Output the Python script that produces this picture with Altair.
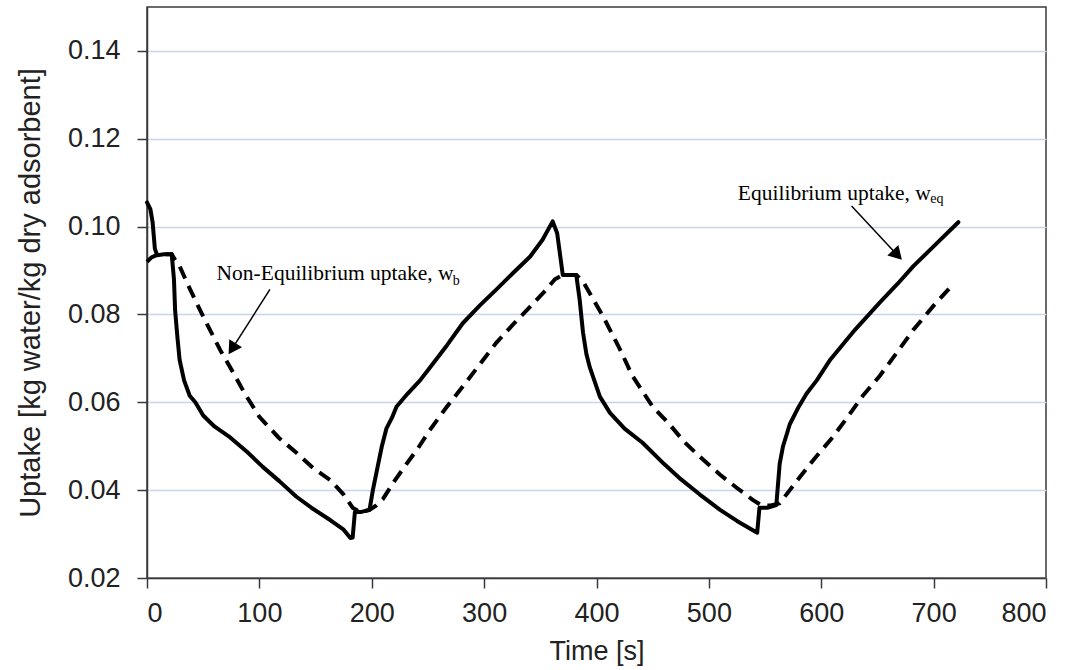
import altair as alt
import pandas as pd

# Equilibrium uptake (solid)
eq_t = [0, 3, 5, 7, 9, 15, 22, 24, 25, 27, 29, 33, 38, 43, 50, 60, 74, 90, 103, 118, 133, 148, 163, 175, 181, 183,
        185, 190, 198, 201, 205, 209, 213, 218, 222, 232, 243, 252, 267, 281, 296, 311, 326, 341, 352, 361, 365, 370,
        382, 385, 388, 391, 394, 403, 412, 425, 441, 460, 475, 492, 510, 525, 543, 545, 552, 560, 563, 566, 572, 580,
        587, 596, 608, 630, 652, 668, 682, 700, 722]
eq_v = [0.1055, 0.104, 0.101, 0.095, 0.0935, 0.0937, 0.0937, 0.088, 0.081, 0.075, 0.0697, 0.065, 0.0615, 0.060, 0.057,
        0.0545, 0.052, 0.0485, 0.0453, 0.042, 0.0385, 0.0357, 0.0332, 0.031, 0.0291, 0.0292,
        0.035, 0.035, 0.0355, 0.040, 0.045, 0.050, 0.054, 0.0565, 0.059, 0.062, 0.065, 0.068, 0.073, 0.078, 0.082,
        0.0857, 0.0895, 0.0932, 0.097, 0.1012, 0.0985, 0.089,
        0.089, 0.0834, 0.0759, 0.071, 0.068, 0.0613, 0.0576, 0.054, 0.0508, 0.046, 0.0425, 0.039, 0.0355, 0.033,
        0.0303, 0.036, 0.036, 0.0366, 0.046, 0.050, 0.055, 0.059,
        0.062, 0.065, 0.0697, 0.0765, 0.0827, 0.087, 0.091, 0.0955, 0.101]

# Non-equilibrium uptake (dashed)
neq_t = [0, 4, 10, 22, 26, 29, 36, 44, 52, 59, 66, 74, 87, 100, 117, 133, 148, 163, 175, 183, 190, 198, 204, 210,
         220, 231, 241, 252, 266, 281, 296, 311, 326, 341, 353, 363, 370, 382, 388, 397, 406, 421, 432, 450, 465,
         478, 492, 510, 525, 539, 547, 555, 563, 572, 581, 595, 610, 623, 637, 652, 667, 682, 700, 717]
neq_v = [0.092, 0.093, 0.0937, 0.0937, 0.092, 0.091, 0.087, 0.0827, 0.0785, 0.075, 0.0715, 0.068, 0.062, 0.0567,
         0.052, 0.0485, 0.045, 0.0423, 0.039, 0.036, 0.035, 0.0355, 0.0365, 0.038,
         0.042, 0.046, 0.0495, 0.0538, 0.0587, 0.0636, 0.0686, 0.0736, 0.0778, 0.0818, 0.085, 0.088, 0.089, 0.089,
         0.0875, 0.0835, 0.0795, 0.072, 0.066, 0.059, 0.055,
         0.051, 0.0476, 0.0435, 0.0405, 0.0378, 0.0365, 0.0365, 0.037, 0.040, 0.043, 0.0475, 0.052, 0.0565, 0.0615,
         0.066, 0.0712, 0.0765, 0.082, 0.0868]

# Annotations
ann_label = ["Non-Equilibrium uptake, w", "Equilibrium uptake, w"]
ann_t = [61.9, 525.8]
ann_v = [0.0892, 0.1074]
sub_label = ["b", "eq"]
sub_t = [272.0, 697.0]
sub_v = [0.0877, 0.1062]
arrow_t = [109.4, 627.0]
arrow_v = [0.0857, 0.1047]
head_t = [76.8, 666.4]
head_v = [0.0726, 0.0939]
head_angle = [212.6, 136.5]

x_ticks = [0, 100, 200, 300, 400, 500, 600, 700, 800]
y_ticks = [0.02, 0.04, 0.06, 0.08, 0.10, 0.12, 0.14]

eq_df = pd.DataFrame({"t": eq_t, "v": eq_v})
neq_df = pd.DataFrame({"t": neq_t, "v": neq_v})
ann_df = pd.DataFrame({"t": ann_t, "v": ann_v, "label": ann_label})
sub_df = pd.DataFrame({"t": sub_t, "v": sub_v, "label": sub_label})
arr_df = pd.DataFrame({"t": arrow_t, "v": arrow_v, "t2": head_t, "v2": head_v, "ang": head_angle})

AXIS_COLOR = "#3a3a3a"
LABEL_FONT = "Liberation Sans"

X = alt.X("t:Q", scale=alt.Scale(domain=[0, 800], nice=False, zero=False),
          axis=alt.Axis(values=x_ticks, title="Time [s]", grid=False, tickSize=10, tickWidth=1.5,
                        domainColor=AXIS_COLOR, domainWidth=1.5, tickColor=AXIS_COLOR,
                        labelFont=LABEL_FONT, labelFontSize=27, labelColor="#222", labelPadding=12,
                        titleFont=LABEL_FONT, titleFontSize=27, titleFontWeight="normal", titleColor="#222",
                        titlePadding=12))
Y = alt.Y("v:Q", scale=alt.Scale(domain=[0.02, 0.15], nice=False, zero=False),
          axis=alt.Axis(values=y_ticks, format=".2f", title="Uptake [kg water/kg dry adsorbent]", grid=True,
                        gridColor="#c8d4ee", gridWidth=1.5, tickSize=10, tickWidth=1.5,
                        domainColor=AXIS_COLOR, domainWidth=1.5, tickColor=AXIS_COLOR,
                        labelFont=LABEL_FONT, labelFontSize=27, labelColor="#222", labelPadding=17,
                        titleFont=LABEL_FONT, titleFontSize=29, titleFontWeight="normal", titleColor="#222",
                        titlePadding=22))

eq_line = alt.Chart(eq_df).mark_line(color="black", strokeWidth=4, strokeJoin="round", strokeCap="round").encode(
    x=X, y=Y, order="t:Q")
neq_line = alt.Chart(neq_df).mark_line(color="black", strokeWidth=4, strokeDash=[13, 8]).encode(
    x=X, y=Y, order="t:Q")

ann_text = alt.Chart(ann_df).mark_text(align="left", baseline="middle", font="Liberation Serif", fontSize=21.5,
                                       color="black").encode(x=X, y=Y, text="label:N")
sub_text = alt.Chart(sub_df).mark_text(align="left", baseline="middle", font="Liberation Serif", fontSize=14,
                                       color="black").encode(x=X, y=Y, text="label:N")
arrows = alt.Chart(arr_df).mark_rule(color="black", strokeWidth=1.5).encode(
    x=X, y=Y, x2="t2:Q", y2="v2:Q")
heads = alt.Chart(arr_df).mark_point(shape="triangle", filled=True, color="black", size=230, opacity=1).encode(
    x=alt.X("t2:Q", scale=alt.Scale(domain=[0, 800], nice=False, zero=False)),
    y=alt.Y("v2:Q", scale=alt.Scale(domain=[0.02, 0.15], nice=False, zero=False)),
    angle=alt.Angle("ang:Q", scale=None))

chart = alt.layer(eq_line, neq_line, arrows, heads, ann_text, sub_text).properties(
    width=899, height=571,
    autosize=alt.AutoSizeParams(type="none"),
    padding={"left": 147, "top": 7, "right": 30, "bottom": 92},
    background="white",
).configure_view(stroke=AXIS_COLOR, strokeWidth=1.5)

chart.save("out.html", embed_options={"renderer": "svg", "actions": False})
